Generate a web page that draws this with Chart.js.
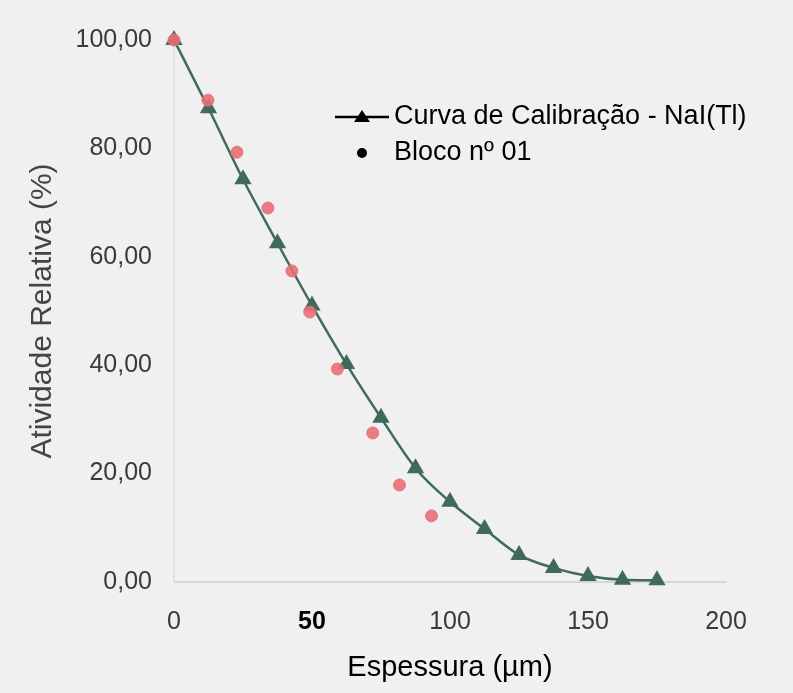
<!DOCTYPE html>
<html>
<head>
<meta charset="utf-8">
<script src="https://cdn.jsdelivr.net/npm/chart.js@4.4.1/dist/chart.umd.min.js"></script>
<style>
  html, body { margin: 0; padding: 0; background: #f0f0f0; }
  #wrap { width: 793px; height: 693px; }
</style>
</head>
<body>
<div id="wrap"><canvas id="chart" width="793" height="693"></canvas></div>
<script>
// calibration curve NaI(Tl), thickness in um
const calibX = [0, 12.5, 25, 37.5, 50, 62.5, 75, 87.5, 100, 112.5, 125, 137.5, 150, 162.5, 175];
const calibY = [100, 87.4, 74.3, 62.5, 51, 40.2, 30.3, 21, 14.8, 9.8, 5, 2.6, 1.1, 0.4, 0.3];
// block no 01
const blocoX = [0, 12.3, 22.8, 34, 42.7, 49.2, 59.2, 72, 81.7, 93.3];
const blocoY = [100, 88.9, 79.3, 69, 57.4, 49.8, 39.3, 27.5, 17.9, 12.2];

const xTicks = [0, 50, 100, 150, 200];
const yTicks = [0, 20, 40, 60, 80, 100];

const labels = ["Curva de Calibração - NaI(Tl)", "Bloco nº 01"];

const FONT = 'Arial, "Liberation Sans", sans-serif';

function toPoints(xs, ys) {
  return xs.map(function (x, i) {
    return { x: x, y: ys[i] };
  });
}

// legend drawn inside the plot, upper right
const innerLegend = {
  id: "innerLegend",
  afterDraw: function (chart) {
    const ctx = chart.ctx;
    const area = chart.chartArea;
    const x0 = area.left + 161;
    const tx = area.left + 220;
    const y1 = area.top + 77;
    const y2 = area.top + 113;
    ctx.save();
    ctx.fillStyle = "#000";
    ctx.strokeStyle = "#000";
    ctx.lineWidth = 2.5;
    ctx.beginPath();
    ctx.moveTo(x0, y1);
    ctx.lineTo(x0 + 54, y1);
    ctx.stroke();
    ctx.beginPath();
    ctx.moveTo(x0 + 27, y1 - 7);
    ctx.lineTo(x0 + 35, y1 + 5);
    ctx.lineTo(x0 + 19, y1 + 5);
    ctx.closePath();
    ctx.fill();
    ctx.beginPath();
    ctx.arc(x0 + 27, y2, 5, 0, Math.PI * 2);
    ctx.fill();
    ctx.font = "27px " + FONT;
    ctx.textBaseline = "middle";
    ctx.textAlign = "left";
    ctx.fillText(chart.data.datasets[0].label, tx, y1);
    ctx.fillText(chart.data.datasets[1].label, tx, y2);
    ctx.restore();
  },
};

const config = {
  type: "scatter",
  data: {
    datasets: [
      {
        label: labels[0],
        data: toPoints(calibX, calibY),
        showLine: true,
        borderColor: "#3f6b58",
        backgroundColor: "#3f6b58",
        borderWidth: 2.5,
        pointStyle: "triangle",
        pointRadius: 7.5,
        cubicInterpolationMode: "monotone",
        clip: false,
        order: 1,
      },
      {
        label: labels[1],
        data: toPoints(blocoX, blocoY),
        showLine: false,
        borderColor: "rgba(232,110,118,0.9)",
        backgroundColor: "rgba(232,110,118,0.9)",
        pointRadius: 6,
        clip: false,
        order: 0,
      },
    ],
  },
  options: {
    responsive: false,
    animation: false,
    layout: { padding: { left: 25, top: 40, right: 67, bottom: 0 } },
    plugins: {
      legend: { display: false },
      tooltip: { enabled: false },
    },
    scales: {
      x: {
        type: "linear",
        min: 0,
        max: 200,
        afterBuildTicks: function (s) {
          s.ticks = xTicks.map(function (v) { return { value: v }; });
        },
        afterFit: function (s) { s.height = 111; },
        grid: { color: "transparent", drawTicks: false },
        border: { display: true, color: "#d6d6d6", width: 2 },
        ticks: {
          padding: 25,
          font: function (c) {
            return { family: FONT, size: 25, weight: c.tick && c.tick.value === 50 ? "bold" : "normal" };
          },
          color: function (c) {
            return c.tick && c.tick.value === 50 ? "#000" : "#3a3a3a";
          },
        },
        title: {
          display: true,
          text: "Espessura (µm)",
          color: "#000",
          font: { family: FONT, size: 29 },
          padding: { top: 0, bottom: 8 },
        },
      },
      y: {
        type: "linear",
        min: 0,
        max: 100,
        afterBuildTicks: function (s) {
          s.ticks = yTicks.map(function (v) { return { value: v }; });
        },
        afterFit: function (s) { s.width = 149; },
        grid: { color: "transparent", drawTicks: false },
        border: { display: true, color: "#e2e2e2", width: 2 },
        ticks: {
          padding: 22,
          color: "#3a3a3a",
          font: { family: FONT, size: 25 },
          callback: function (v) {
            return v.toFixed(2).replace(".", ",");
          },
        },
        title: {
          display: true,
          text: "Atividade Relativa (%)",
          color: "#444",
          font: { family: FONT, size: 30 },
          padding: { top: 0, bottom: 0 },
        },
      },
    },
  },
  plugins: [innerLegend],
};

new Chart(document.getElementById("chart"), config);
</script>
</body>
</html>
